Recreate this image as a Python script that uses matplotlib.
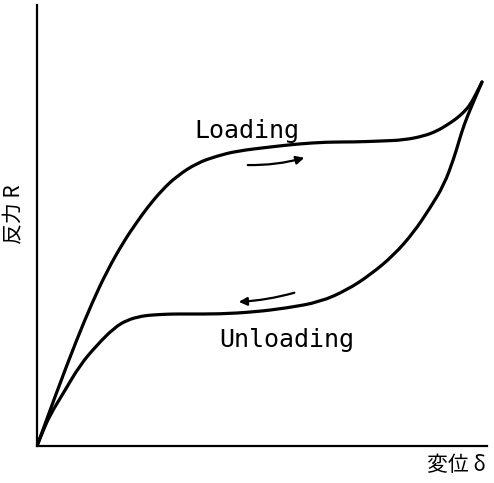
import matplotlib
matplotlib.use("Agg")
import matplotlib.pyplot as plt
from matplotlib.path import Path
from matplotlib.patches import PathPatch

plt.rcParams['font.family'] = ['Noto Sans CJK JP', 'DejaVu Sans']

# Loading branch (displacement, reaction)
load_x = [0, 20, 40, 55, 70, 87, 100, 110, 125, 140, 160, 180, 200, 233, 260,
          290, 317, 345, 367, 387, 400, 410, 419, 427, 433, 439, 445]
load_y = [0, 55, 107, 143, 175, 205, 224, 238, 256, 270, 283, 290, 295, 299, 302,
          304, 304, 305, 306, 310, 315, 321, 327, 334, 341, 352, 364]

# Unloading branch
unload_x = [445, 439, 433, 427, 422, 417, 407, 393, 377, 357, 333, 310, 283, 250,
            217, 183, 150, 133, 115, 105, 90, 77, 60, 43, 27, 13, 6, 0]
unload_y = [364, 350, 336, 321, 305, 288, 261, 238, 214, 191, 171, 156, 144, 138,
            134, 132, 132, 132, 131, 130, 126, 118, 101, 81, 54, 31, 15, 0]

# Direction arrows (start, end)
arrow_load = [(208, 281), (270, 289)]
arrow_unload = [(260, 154), (199, 144)]


def smooth_path(xs, ys):
    pts = list(zip(xs, ys))
    verts = [pts[0]]
    codes = [Path.MOVETO]
    for i in range(1, len(pts) - 1):
        mid = ((pts[i][0] + pts[i + 1][0]) / 2, (pts[i][1] + pts[i + 1][1]) / 2)
        verts += [pts[i], mid]
        codes += [Path.CURVE3, Path.CURVE3]
    verts.append(pts[-1])
    codes.append(Path.LINETO)
    return Path(verts, codes)


fig = plt.figure(figsize=(4.94, 4.83), dpi=100)
ax = fig.add_axes([37 / 494, 37 / 483, 450 / 494, 441 / 483])

for xs, ys in ((load_x, load_y), (unload_x, unload_y)):
    ax.add_patch(PathPatch(smooth_path(xs, ys), facecolor='none', edgecolor='black',
                           lw=2.3, capstyle='round', joinstyle='round'))

for (s, e), rad in ((arrow_load, 0.08), (arrow_unload, -0.06)):
    ax.annotate('', xy=e, xytext=s,
                arrowprops=dict(arrowstyle='-|>', color='black', lw=1.6,
                                mutation_scale=12,
                                connectionstyle=f'arc3,rad={rad}'))

ax.text(210, 315, 'Loading', fontsize=18, ha='center', va='center',
        family='DejaVu Sans Mono')
ax.text(250, 106, 'Unloading', fontsize=18, ha='center', va='center',
        family='DejaVu Sans Mono')

ax.set_xlim(0, 450)
ax.set_ylim(0, 441)
for sp in ('top', 'right'):
    ax.spines[sp].set_visible(False)
ax.spines['left'].set_linewidth(1.6)
ax.spines['bottom'].set_linewidth(1.6)
ax.set_xticks([])
ax.set_yticks([])

fig.text(14 / 494, 1 - 214 / 483, '反力 R', rotation=90, fontsize=15,
         ha='center', va='center')
fig.text(456 / 494, 1 - 465 / 483, '変位 δ', fontsize=15,
         ha='center', va='center')

fig.savefig('out.png', dpi=100, facecolor='white')
